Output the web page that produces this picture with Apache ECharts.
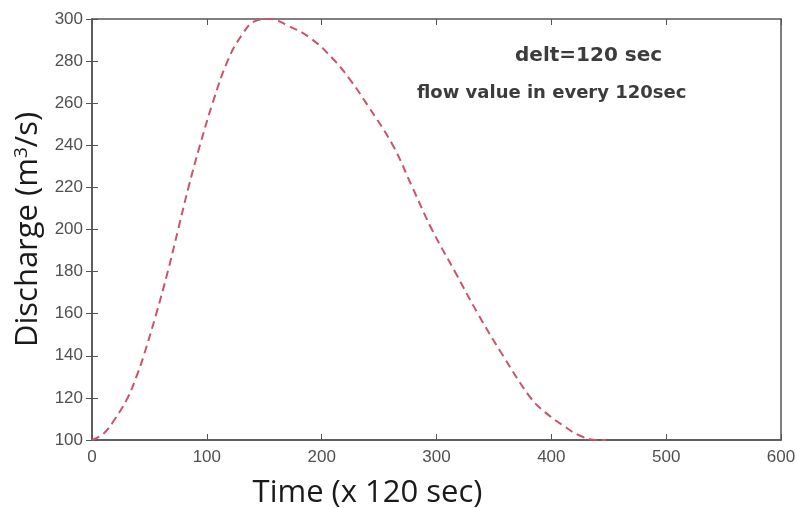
<!DOCTYPE html>
<html><head><meta charset="utf-8">
<script src="https://cdn.jsdelivr.net/npm/echarts@6/dist/echarts.min.js"></script>
<style>html,body{margin:0;padding:0;background:#fff}#c{width:797px;height:508px}</style>
</head><body><div id="c"></div>
<script>
const timeValues = [0, 10, 20, 31, 40, 45, 56, 66, 75, 84, 94, 105, 118, 130, 142, 155, 170, 190, 210, 225, 240, 262, 279, 296, 316, 336, 358, 382, 395, 410, 425, 440, 448];
const dischargeValues = [100, 103, 110, 120, 132, 140, 160, 180, 200, 220, 240, 260, 280, 292, 299, 300, 297, 291, 281, 271, 259, 240, 220, 200, 180, 160, 140, 120, 113, 107, 102, 100, 100];
const xTicks = [0, 100, 200, 300, 400, 500, 600];
const yTicks = [100, 120, 140, 160, 180, 200, 220, 240, 260, 280, 300];
const annotation1 = 'delt=120 sec';
const annotation2 = 'flow value in every 120sec';

const data = timeValues.map((t, i) => [t, dischargeValues[i]]);
const chart = echarts.init(document.getElementById('c'));
const lblFont = {color: '#505050', fontFamily: 'Liberation Sans, Arial', fontSize: 17};
chart.setOption({
  animation: false,
  grid: {left: 92, right: 16, top: 19, bottom: 68, show: true, borderColor: '#555', borderWidth: 1.5,
    containLabel: false, outerBoundsMode: 'none'},
  xAxis: [{
    type: 'value', min: xTicks[0], max: xTicks[xTicks.length-1], interval: 100, position: 'bottom',
    axisLine: {show: true, lineStyle: {color: '#555', width: 1.5}},
    axisTick: {show: true, inside: true, length: 6, lineStyle: {color: '#555'}},
    axisLabel: Object.assign({margin: 9}, lblFont),
    splitLine: {show: false},
    name: 'Time (x 120 sec)', nameLocation: 'middle', nameGap: 38,
    nameTextStyle: {fontFamily: 'Open Sans', fontSize: 31, color: '#1a1a1a', padding: [0, 138, 0, 0]}
  }, {
    type: 'value', min: 0, max: 600, interval: 100, position: 'top',
    axisLine: {show: false}, axisLabel: {show: false}, splitLine: {show: false},
    axisTick: {show: true, inside: true, length: 6, lineStyle: {color: '#555'}}
  }],
  yAxis: [{
    type: 'value', min: yTicks[0], max: yTicks[yTicks.length-1], interval: 20, position: 'left',
    axisLine: {show: true, lineStyle: {color: '#555', width: 1.5}},
    axisTick: {show: true, inside: true, length: 6, lineStyle: {color: '#555'}},
    axisLabel: Object.assign({margin: 9}, lblFont),
    splitLine: {show: false},
    name: 'Discharge (m{sup|3}/s)', nameLocation: 'middle', nameGap: 47, nameRotate: 90,
    nameTextStyle: {fontFamily: 'Open Sans', fontSize: 31, color: '#1a1a1a',
      rich: {sup: {fontFamily: 'Open Sans', fontSize: 19, color: '#1a1a1a', verticalAlign: 'top', padding: [0, 0, 13, 0]}}}
  }, {
    type: 'value', min: 100, max: 300, interval: 20, position: 'right',
    axisLine: {show: false}, axisLabel: {show: false}, splitLine: {show: false},
    axisTick: {show: true, inside: true, length: 6, lineStyle: {color: '#555'}}
  }],
  series: [{
    type: 'line', data: data, smooth: 0.4, symbol: 'none', clip: true,
    lineStyle: {color: '#c9546c', width: 2, type: [8, 5]}
  }],
  graphic: [
    {type: 'text', left: 515, top: 46, style: {text: annotation1, fill: '#3c3c3c', font: 'bold 20px "DejaVu Sans"'}},
    {type: 'text', left: 417, top: 84, style: {text: annotation2, fill: '#3c3c3c', font: 'bold 18px "DejaVu Sans"'}}
  ]
});
</script></body></html>
